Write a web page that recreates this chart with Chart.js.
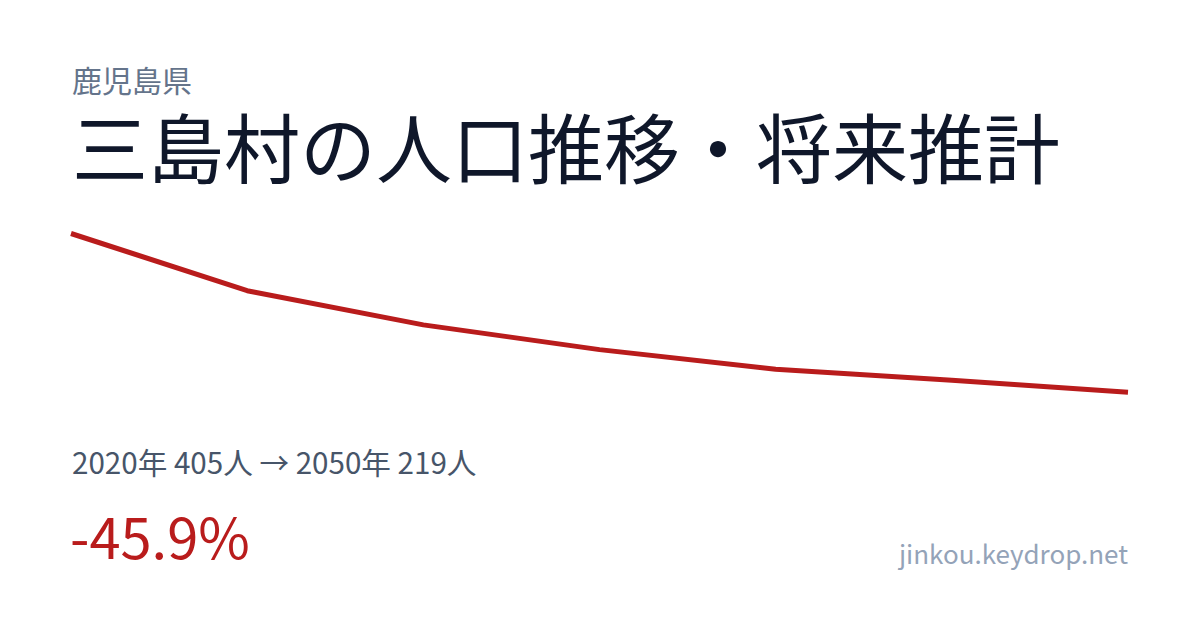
<!DOCTYPE html>
<html lang="ja">
<head>
<meta charset="utf-8">
<script src="https://cdn.jsdelivr.net/npm/chart.js@4"></script>
<style>
  html, body { margin: 0; padding: 0; background: #ffffff; }
  body { width: 1200px; height: 630px; position: relative; overflow: hidden;
         font-family: "Noto Sans CJK JP", "Noto Sans", sans-serif; }
  .t { position: absolute; white-space: nowrap; line-height: 1; }
  #pref { left: 72px; top: 64px; font-size: 30px; color: #64748b; }
  #title { left: 72px; top: 107px; font-size: 76px; color: #0f172a; }
  #stats { left: 72px; top: 447px; font-size: 29.6px; color: #475569; }
  #pct { left: 70px; top: 507px; font-size: 56px; color: #b91c1c; }
  #url { right: 72px; top: 540px; font-size: 26px; color: #94a3b8; }
  #chartBox { position: absolute; left: 60px; top: 220px; width: 1080px; height: 185px; }
</style>
</head>
<body>
<div class="t" id="pref">鹿児島県</div>
<div class="t" id="title">三島村の人口推移・将来推計</div>
<div class="t" id="stats">2020年 405人 → 2050年 219人</div>
<div class="t" id="pct">-45.9%</div>
<div class="t" id="url">jinkou.keydrop.net</div>
<div id="chartBox"><canvas id="c"></canvas></div>
<script>
const years = ["2020", "2025", "2030", "2035", "2040", "2045", "2050"];
const population = [405, 338, 298, 269, 246, 233, 219];

new Chart(document.getElementById('c'), {
  type: 'line',
  data: {
    labels: years,
    datasets: [{
      data: population,
      borderColor: '#b91c1c',
      borderWidth: 5,
      borderCapStyle: 'butt',
      borderJoinStyle: 'round',
      pointRadius: 0,
      tension: 0,
      fill: false,
      clip: false
    }]
  },
  options: {
    responsive: true,
    maintainAspectRatio: false,
    animation: false,
    layout: { padding: { left: 11, right: 12, top: 13.5, bottom: 12.7 } },
    plugins: { legend: { display: false }, tooltip: { enabled: false } },
    scales: {
      x: { display: false, offset: false },
      y: { display: false, min: 219, max: 405 }
    }
  }
});
</script>
</body>
</html>
